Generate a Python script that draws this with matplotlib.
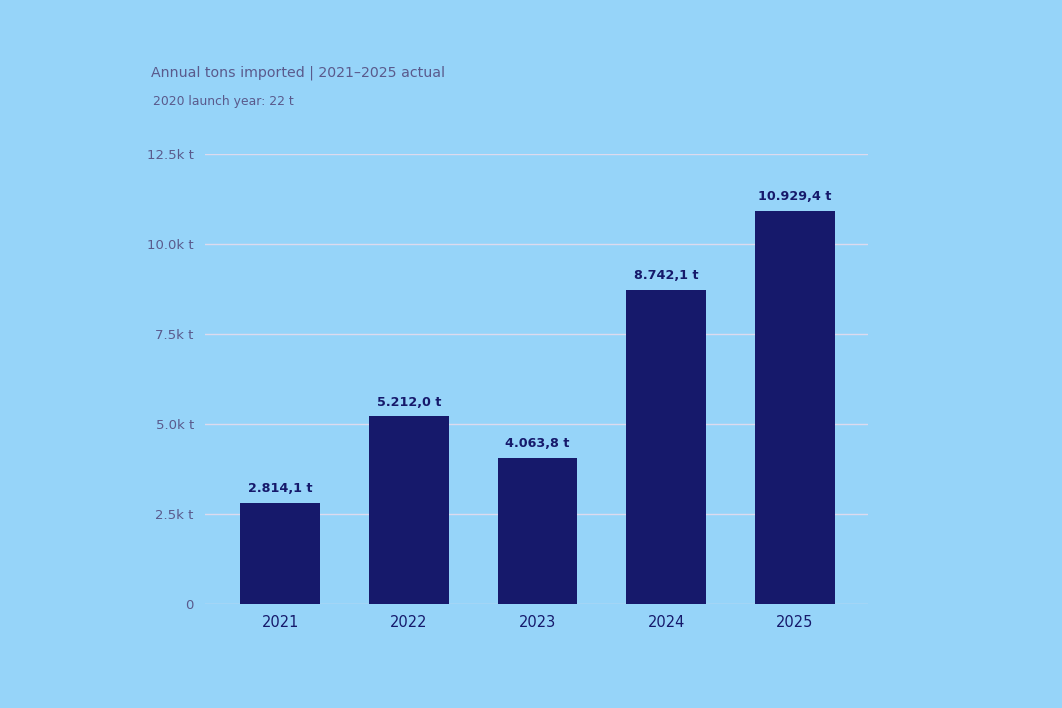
import matplotlib
matplotlib.use("Agg")
import matplotlib.pyplot as plt
from matplotlib.ticker import FuncFormatter

# -- Data ---------------------------------------------------------------------
years = ["2021", "2022", "2023", "2024", "2025"]
tons = [2814.1, 5212.0, 4063.8, 8742.1, 10929.4]
y_ticks = [0, 2500, 5000, 7500, 10000, 12500]

# -- Style --------------------------------------------------------------------
_BG = "#96D4F9"
_BAR = "#16196B"
_MUTED = "#5A5A8C"
_GRID = "#DDDAEE"


def _fmt_tons(v):
    # 10929.4 -> "10.929,4 t"
    s = f"{v:,.1f}".replace(",", "X").replace(".", ",").replace("X", ".")
    return f"{s} t"


def _fmt_tick(v, _pos):
    if v == 0:
        return "0"
    return f"{v / 1000:.1f}k t"


fig = plt.figure(figsize=(10.62, 7.08), dpi=100, facecolor=_BG)
ax = fig.add_axes([0.193, 0.147, 0.624, 0.635])
ax.set_facecolor(_BG)

x = list(range(len(years)))
bars = ax.bar(x, tons, width=0.62, color=_BAR, zorder=3)

for xi, v in zip(x, tons):
    ax.annotate(
        _fmt_tons(v),
        (xi, v),
        xytext=(0, 5.5),
        textcoords="offset points",
        ha="center",
        va="bottom",
        fontsize=9.2,
        fontweight="bold",
        color=_BAR,
    )

ax.set_xlim(-0.585, 4.565)
ax.set_ylim(0, 12500)
ax.set_yticks(y_ticks)
ax.yaxis.set_major_formatter(FuncFormatter(_fmt_tick))
ax.set_xticks(x)
ax.set_xticklabels(years)

ax.grid(axis="y", color=_GRID, linewidth=1.0, zorder=0)
ax.set_axisbelow(True)
for spine in ax.spines.values():
    spine.set_visible(False)
ax.tick_params(axis="y", length=0, pad=8, labelsize=9.5, labelcolor=_MUTED)
ax.tick_params(axis="x", length=0, pad=8, labelsize=10.5, labelcolor=_BAR)

fig.text(0.142, 0.897, "Annual tons imported | 2021\u20132025 actual",
         fontsize=10.2, color=_MUTED, va="center")
fig.text(0.144, 0.856, "2020 launch year: 22 t",
         fontsize=8.9, color=_MUTED, va="center")

fig.savefig("out.png", dpi=100, facecolor=_BG)
